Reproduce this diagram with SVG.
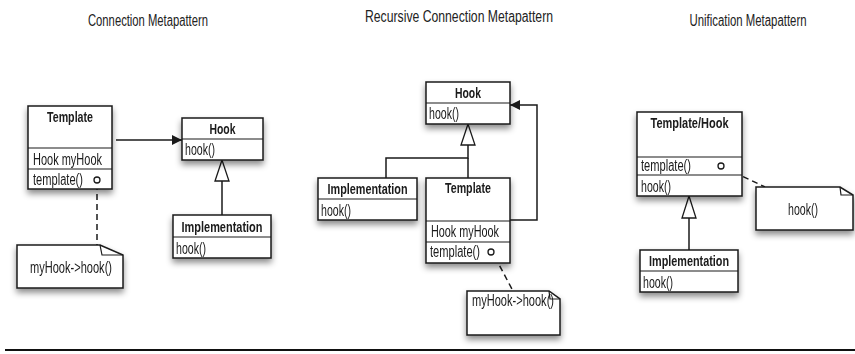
<svg xmlns="http://www.w3.org/2000/svg" width="855" height="354" viewBox="0 0 855 354">
<style>
text{font-family:"Liberation Sans",Arial,sans-serif;font-size:16px;fill:#1a1a1a}
.t{font-size:16px;text-anchor:middle;fill:#222}
.b{font-weight:bold;font-size:14.5px;text-anchor:middle}
.c{text-anchor:middle}
.box{fill:#fff;stroke:#1a1a1a;stroke-width:1.5}
.sep{stroke:#1a1a1a;stroke-width:1.2;fill:none}
.ln{stroke:#1a1a1a;stroke-width:1.5;fill:none}
.dash{stroke:#1a1a1a;stroke-width:1.5;fill:none;stroke-dasharray:6,4}
.tri{fill:#fff;stroke:#1a1a1a;stroke-width:1.3}
.dot{fill:#fff;stroke:#1a1a1a;stroke-width:1.3}
.sh{filter:url(#shadow)}
</style>
<defs>
<filter id="shadow" x="-20%" y="-20%" width="140%" height="160%">
<feDropShadow dx="0" dy="4" stdDeviation="3" flood-color="#000" flood-opacity="0.45"/>
</filter>
<marker id="arr" viewBox="0 0 10 10" refX="10" refY="5" markerWidth="10" markerHeight="10" markerUnits="userSpaceOnUse" orient="auto">
<path d="M0,0 L10,5 L0,10 Z" fill="#1a1a1a"/>
</marker>
</defs>

<text class="t" x="148" y="26" textLength="120" lengthAdjust="spacingAndGlyphs">Connection Metapattern</text>
<text class="t" x="459" y="22" textLength="188" lengthAdjust="spacingAndGlyphs">Recursive Connection Metapattern</text>
<text class="t" x="748" y="26" textLength="117" lengthAdjust="spacingAndGlyphs">Unification Metapattern</text>

<g id="connectors">
<line class="ln" x1="116" y1="140" x2="182" y2="140" marker-end="url(#arr)"/>
<line class="ln" x1="222" y1="181" x2="222" y2="215"/>
<polygon class="tri" points="222,160 215,181 229,181"/>
<line class="dash" x1="97" y1="184" x2="97" y2="245"/>

<polyline class="ln" points="468,145 468,158 386,158 386,178"/>
<line class="ln" x1="468" y1="158" x2="468" y2="178"/>
<polygon class="tri" points="468,124 461,145 475,145"/>
<polyline class="ln" points="510,220 537,220 537,105 510,105" marker-end="url(#arr)"/>
<line class="dash" x1="495" y1="257" x2="513" y2="291"/>

<line class="ln" x1="689" y1="218" x2="689" y2="250"/>
<polygon class="tri" points="689,196 682,218 696,218"/>
<line class="dash" x1="725" y1="168" x2="765" y2="187"/>
</g>

<g id="c-template" class="sh">
<rect class="box" x="28" y="106" width="84" height="83"/>
<line class="sep" x1="28" y1="148" x2="112" y2="148"/>
<line class="sep" x1="28" y1="169" x2="112" y2="169"/>
<text class="b" x="70" y="122" textLength="46" lengthAdjust="spacingAndGlyphs">Template</text>
<text x="33" y="165" textLength="69" lengthAdjust="spacingAndGlyphs">Hook myHook</text>
<text x="33" y="185" textLength="50" lengthAdjust="spacingAndGlyphs">template()</text>
<circle class="dot" cx="97" cy="180" r="3"/>
</g>

<g id="c-hook" class="sh">
<rect class="box" x="182" y="118" width="81" height="42"/>
<line class="sep" x1="182" y1="139" x2="263" y2="139"/>
<text class="b" x="222.5" y="134" textLength="26" lengthAdjust="spacingAndGlyphs">Hook</text>
<text x="185" y="155" textLength="30" lengthAdjust="spacingAndGlyphs">hook()</text>
</g>

<g id="c-impl" class="sh">
<rect class="box" x="173" y="215" width="98" height="43"/>
<line class="sep" x1="173" y1="237" x2="271" y2="237"/>
<text class="b" x="222" y="232" textLength="81" lengthAdjust="spacingAndGlyphs">Implementation</text>
<text x="176" y="254" textLength="30" lengthAdjust="spacingAndGlyphs">hook()</text>
</g>

<g id="c-note" class="sh">
<path class="box" d="M17,245 H100 L123,255 V288 H17 Z"/>
<path class="sep" d="M100,245 L102,255 H123"/>
<text class="c" x="71" y="273" textLength="82" lengthAdjust="spacingAndGlyphs">myHook-&gt;hook()</text>
</g>

<g id="r-hook" class="sh">
<rect class="box" x="426" y="82" width="84" height="42"/>
<line class="sep" x1="426" y1="103" x2="510" y2="103"/>
<text class="b" x="468" y="98" textLength="26" lengthAdjust="spacingAndGlyphs">Hook</text>
<text x="429" y="119" textLength="30" lengthAdjust="spacingAndGlyphs">hook()</text>
</g>

<g id="r-impl" class="sh">
<rect class="box" x="318" y="178" width="99" height="42"/>
<line class="sep" x1="318" y1="199" x2="417" y2="199"/>
<text class="b" x="367.5" y="194" textLength="80" lengthAdjust="spacingAndGlyphs">Implementation</text>
<text x="321" y="216" textLength="30" lengthAdjust="spacingAndGlyphs">hook()</text>
</g>

<g id="r-template" class="sh">
<rect class="box" x="426" y="178" width="84" height="85"/>
<line class="sep" x1="426" y1="221" x2="510" y2="221"/>
<line class="sep" x1="426" y1="242" x2="510" y2="242"/>
<text class="b" x="468" y="193" textLength="46" lengthAdjust="spacingAndGlyphs">Template</text>
<text x="431" y="237" textLength="68" lengthAdjust="spacingAndGlyphs">Hook myHook</text>
<text x="430" y="257" textLength="50" lengthAdjust="spacingAndGlyphs">template()</text>
<circle class="dot" cx="491" cy="252" r="3"/>
</g>

<g id="r-note" class="sh">
<path class="box" d="M467,291 H549 L560,299 V335 H467 Z"/>
<path class="sep" d="M549,291 L550,299 H560"/>
<text class="c" x="513" y="306" textLength="82" lengthAdjust="spacingAndGlyphs">myHook-&gt;hook()</text>
</g>

<g id="u-templatehook" class="sh">
<rect class="box" x="637" y="112" width="105" height="84"/>
<line class="sep" x1="637" y1="157" x2="742" y2="157"/>
<line class="sep" x1="637" y1="175" x2="742" y2="175"/>
<text class="b" x="689.5" y="128" textLength="78" lengthAdjust="spacingAndGlyphs">Template/Hook</text>
<text x="641" y="171" textLength="50" lengthAdjust="spacingAndGlyphs">template()</text>
<text x="641" y="192" textLength="30" lengthAdjust="spacingAndGlyphs">hook()</text>
<circle class="dot" cx="721" cy="166" r="3"/>
</g>

<g id="u-impl" class="sh">
<rect class="box" x="640" y="250" width="98" height="42"/>
<line class="sep" x1="640" y1="271" x2="738" y2="271"/>
<text class="b" x="689" y="266" textLength="80" lengthAdjust="spacingAndGlyphs">Implementation</text>
<text x="643" y="288" textLength="30" lengthAdjust="spacingAndGlyphs">hook()</text>
</g>

<g id="u-note" class="sh">
<path class="box" d="M756,187 H840 L853,195 V230 H756 Z"/>
<path class="sep" d="M840,187 L841,195 H853"/>
<text class="c" x="803" y="215" textLength="30" lengthAdjust="spacingAndGlyphs">hook()</text>
</g>

<line x1="5" y1="350" x2="855" y2="350" stroke="#111" stroke-width="2"/>
</svg>
